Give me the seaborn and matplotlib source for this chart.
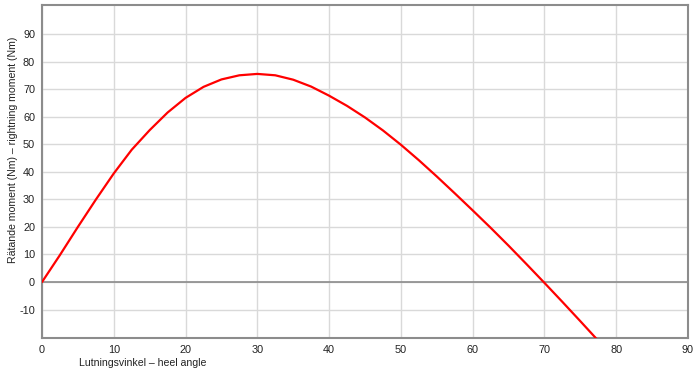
import matplotlib
matplotlib.use("Agg")
import matplotlib.pyplot as plt
import seaborn as sns
import pandas as pd

heel_angle = [0, 2.5, 5, 7.5, 10, 12.5, 15, 17.5, 20, 22.5, 25, 27.5, 30, 32.5, 35,
              37.5, 40, 42.5, 45, 47.5, 50, 52.5, 55, 57.5, 60, 62.5, 65, 67.5, 70,
              72.5, 75, 77.5]
righting_moment = [0, 9.8, 20.0, 29.9, 39.4, 48.0, 55.1, 61.5, 66.8, 70.8, 73.5, 75.0,
                   75.5, 75.0, 73.4, 70.9, 67.6, 63.9, 59.7, 55.0, 49.8, 44.2, 38.3,
                   32.2, 26.0, 19.7, 13.2, 6.5, -0.3, -7.2, -14.2, -21.3]
x_ticks = list(range(0, 91, 10))
y_ticks = list(range(-10, 91, 10))
x_label = "Lutningsvinkel – heel angle"
y_label = "Rätande moment (Nm) – rightning moment (Nm)"

sns.set_theme(style="white")
plt.rcParams['font.family'] = ['Liberation Sans', 'DejaVu Sans']
plt.rcParams['axes.unicode_minus'] = False

df = pd.DataFrame({"x": heel_angle, "y": righting_moment})

fig = plt.figure(figsize=(7, 3.76), dpi=100)
ax = fig.add_axes([42/700, 1 - 338/376, (688-42)/700, (338-5)/376])

for xv in x_ticks:
    ax.axvline(xv, color="#d9d9d9", lw=1.0, zorder=0)
for yv in y_ticks:
    ax.axhline(yv, color="#d9d9d9", lw=1.0, zorder=0)
ax.axhline(0, color="#8c8c8c", lw=1.2, zorder=1)

sns.lineplot(data=df, x="x", y="y", ax=ax, color="#ff0000", lw=1.6, zorder=3)

ax.set_xlim(0, 90)
ax.set_ylim(-20.3, 100.5)
ax.set_xticks(x_ticks)
ax.set_yticks(y_ticks)
ax.tick_params(axis="both", length=0, labelsize=7.8, colors="#222222", pad=5)
ax.set_xlabel("")
ax.set_ylabel("")
for s in ax.spines.values():
    s.set_color("#8c8c8c")
    s.set_linewidth(1.5)

fig.text(79/700, 1 - 363/376, x_label, fontsize=7.6, color="#222222",
         ha="left", va="center")
fig.text(13/700, 1 - 150/376, y_label, fontsize=7.6, color="#222222",
         ha="center", va="center", rotation=90)

fig.savefig("out.png", dpi=100)
